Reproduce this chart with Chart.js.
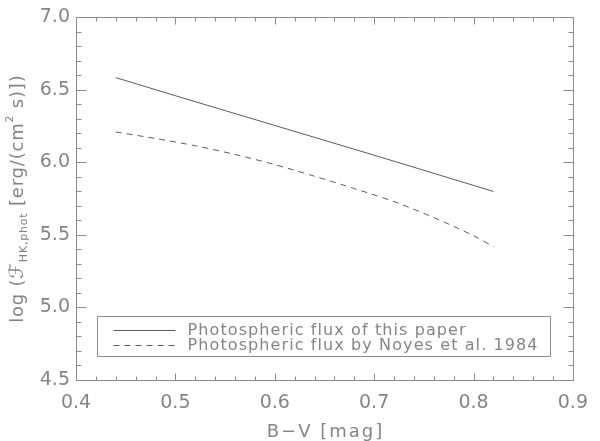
<!DOCTYPE html>
<html><head><meta charset="utf-8">
<script src="https://cdn.jsdelivr.net/npm/chart.js@4"></script>
<style>html,body{margin:0;padding:0;background:#fff;}</style>
</head><body>
<canvas id="c" width="600" height="441"></canvas>
<script>
// ---- data ----
const bvSolid    = [0.44, 0.50, 0.60, 0.70, 0.82];
const fluxSolid  = [6.585, 6.46, 6.255, 6.05, 5.80];
const bvDashed   = [0.44, 0.48, 0.52, 0.56, 0.60, 0.64, 0.68, 0.72, 0.76, 0.80, 0.82];
const fluxDashed = [6.21, 6.165, 6.115, 6.055, 5.985, 5.905, 5.82, 5.73, 5.62, 5.495, 5.42];
const xTicks = ['0.4','0.5','0.6','0.7','0.8','0.9'];
const yTicks = ['4.5','5.0','5.5','6.0','6.5','7.0'];
const seriesLabels = ['Photospheric flux of this paper', 'Photospheric flux by Noyes et al. 1984'];
const xTitle = 'B\u2212V [mag]';

const FONT = '"DejaVu Sans", sans-serif';
const TEXT = '#858585';
const AXIS = '#8c8c8c';
const LINE = '#5c5c5c';

const frame = {
  id: 'frame',
  afterDraw(chart) {
    const {ctx, chartArea: a, scales: {x, y}} = chart;
    ctx.save();
    ctx.strokeStyle = AXIS; ctx.lineWidth = 1;
    const L = Math.round(a.left) + 0.5, R = Math.round(a.right) + 0.5;
    const T = Math.round(a.top) + 0.5, B = Math.round(a.bottom) + 0.5;
    ctx.beginPath();
    ctx.rect(L, T, R - L, B - T);
    for (let i = 0; i <= 25; i++) {
      const px = Math.round(x.getPixelForValue(0.4 + i * 0.02)) + 0.5;
      const len = (i % 5 === 0) ? 7 : 4;
      ctx.moveTo(px, B); ctx.lineTo(px, B - len);
      ctx.moveTo(px, T); ctx.lineTo(px, T + len);
    }
    for (let i = 0; i <= 25; i++) {
      const py = Math.round(y.getPixelForValue(4.5 + i * 0.1)) + 0.5;
      const len = (i % 5 === 0) ? 10 : 5;
      ctx.moveTo(L, py); ctx.lineTo(L + len, py);
      ctx.moveTo(R, py); ctx.lineTo(R - len, py);
    }
    ctx.stroke();

    // legend box
    const bx = L + 21, by = T + 299, bw = 453, bh = 40;
    ctx.beginPath();
    ctx.rect(bx, by, bw, bh);
    ctx.stroke();
    ctx.font = '16px ' + FONT;
    ctx.letterSpacing = '1.1px';
    ctx.fillStyle = TEXT;
    ctx.textBaseline = 'middle';
    ctx.textAlign = 'left';
    chart.data.datasets.forEach((ds, k) => {
      const ly = by + 13 + k * 15;
      ctx.save();
      ctx.strokeStyle = ds.borderColor;
      ctx.setLineDash(ds.borderDash || []);
      ctx.beginPath();
      ctx.moveTo(bx + 16, Math.round(ly) + 0.5);
      ctx.lineTo(bx + 78, Math.round(ly) + 0.5);
      ctx.stroke();
      ctx.restore();
      ctx.fillText(ds.label, bx + 90, ly + 1);
    });

    // x-axis title
    ctx.font = '18px ' + FONT;
    ctx.letterSpacing = '2px';
    ctx.textAlign = 'center';
    ctx.fillText(xTitle, (a.left + a.right) / 2 + 1, 432);

    // y-axis title with sub/superscripts, rotated
    ctx.save();
    ctx.translate(18, (a.top + a.bottom) / 2);
    ctx.rotate(-Math.PI / 2);
    ctx.textAlign = 'left';
    ctx.letterSpacing = '0.8px';
    const big = '18px ' + FONT, small = '11px ' + FONT;
    const parts = [
      {t: 'log (', f: big, dy: 0},
      {t: '\u2131', f: 'italic 20px ' + FONT, dy: 0},
      {t: 'HK,phot', f: small, dy: 6},
      {t: ' [erg/(cm', f: big, dy: 0},
      {t: '2', f: small, dy: -8},
      {t: ' s)])', f: big, dy: 0},
    ];
    let total = 0;
    parts.forEach(p => { ctx.font = p.f; p.w = ctx.measureText(p.t).width; total += p.w; });
    let cx = -total / 2;
    ctx.textBaseline = 'middle';
    parts.forEach(p => { ctx.font = p.f; ctx.fillText(p.t, cx, p.dy); cx += p.w; });
    ctx.restore();
    ctx.restore();
  }
};

new Chart(document.getElementById('c'), {
  type: 'line',
  data: {
    datasets: [
      { label: seriesLabels[0], data: bvSolid.map((v, i) => ({x: v, y: fluxSolid[i]})),
        borderColor: LINE, borderWidth: 1, pointRadius: 0, fill: false, tension: 0 },
      { label: seriesLabels[1], data: bvDashed.map((v, i) => ({x: v, y: fluxDashed[i]})),
        borderColor: LINE, borderWidth: 1, borderDash: [6, 5], pointRadius: 0, fill: false, tension: 0.3 }
    ]
  },
  options: {
    responsive: false, animation: false, devicePixelRatio: 1,
    layout: { padding: { left: 0, right: 17, top: 6, bottom: 0 } },
    plugins: { legend: { display: false }, tooltip: { enabled: false } },
    scales: {
      x: {
        type: 'linear', min: 0.4, max: 0.9,
        border: { display: false },
        grid: { display: false, drawTicks: false },
        ticks: { stepSize: 0.1, color: TEXT, font: { family: FONT, size: 19 }, padding: 12,
                 callback: (v) => { const s = v.toFixed(1); return xTicks.includes(s) ? s : ''; },
                 maxRotation: 0, autoSkip: false },
        afterFit: (s) => { s.height = 61; }
      },
      y: {
        min: 4.5, max: 7.0,
        border: { display: false },
        grid: { display: false, drawTicks: false },
        ticks: { stepSize: 0.5, color: TEXT, font: { family: FONT, size: 19 }, padding: 6,
                 callback: (v) => { const s = v.toFixed(1); return yTicks.includes(s) ? s : ''; } },
        afterFit: (s) => { s.width = 76; }
      }
    }
  },
  plugins: [frame]
});
</script>
</body></html>
